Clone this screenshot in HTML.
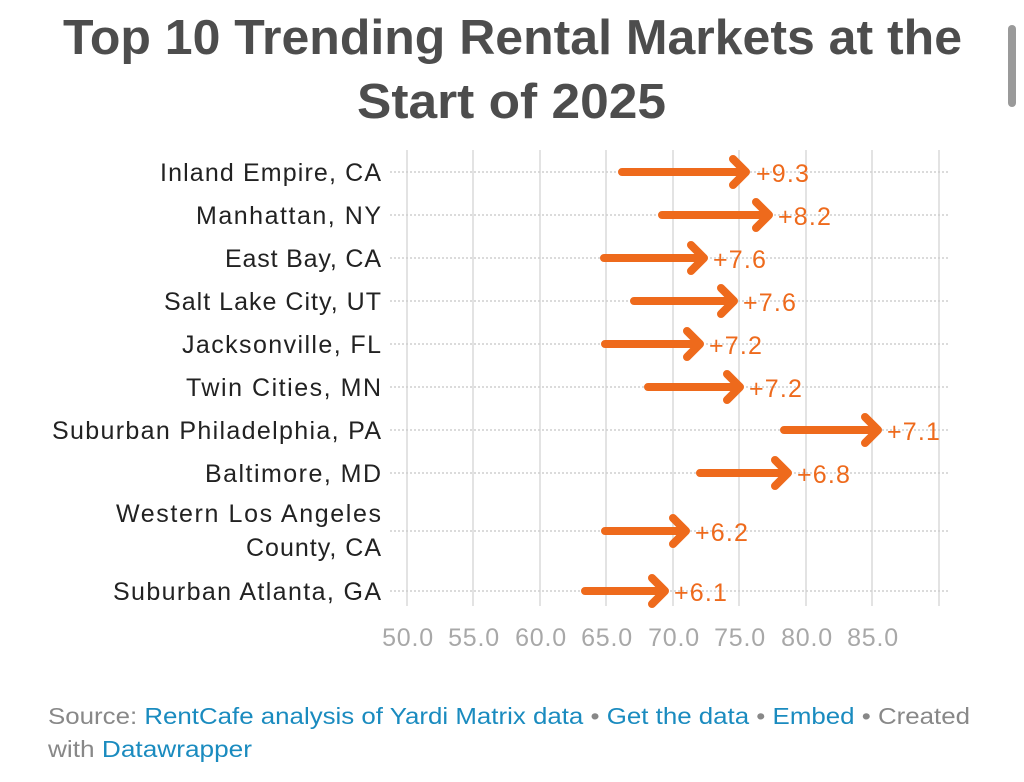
<!DOCTYPE html>
<html><head><meta charset="utf-8"><style>
body{margin:0;width:1024px;height:777px;background:#fff;overflow:hidden;font-family:"Liberation Sans",Arial,sans-serif;}
</style></head><body>
<svg width="1024" height="777" xmlns="http://www.w3.org/2000/svg" font-family="Liberation Sans, Arial, sans-serif">
<rect x="1008" y="25" width="8" height="82" rx="4" fill="#9a9a9a"/>
<text x="63" y="54" font-size="49" font-weight="bold" fill="#4d4d4d" textLength="899" lengthAdjust="spacingAndGlyphs">Top 10 Trending Rental Markets at the</text>
<text x="357" y="118" font-size="49" font-weight="bold" fill="#4d4d4d" textLength="309" lengthAdjust="spacingAndGlyphs">Start of 2025</text>
<g stroke="#e3e3e3" stroke-width="2">
<line x1="407" y1="150" x2="407" y2="606"/><line x1="473" y1="150" x2="473" y2="606"/><line x1="540" y1="150" x2="540" y2="606"/><line x1="606" y1="150" x2="606" y2="606"/><line x1="673" y1="150" x2="673" y2="606"/><line x1="739" y1="150" x2="739" y2="606"/><line x1="806" y1="150" x2="806" y2="606"/><line x1="872" y1="150" x2="872" y2="606"/><line x1="939" y1="150" x2="939" y2="606"/>
</g>
<g stroke="#cfcfcf" stroke-width="1.5" stroke-dasharray="2,2">
<line x1="390" y1="172" x2="950" y2="172"/><line x1="390" y1="215" x2="950" y2="215"/><line x1="390" y1="258" x2="950" y2="258"/><line x1="390" y1="301" x2="950" y2="301"/><line x1="390" y1="344" x2="950" y2="344"/><line x1="390" y1="387" x2="950" y2="387"/><line x1="390" y1="430" x2="950" y2="430"/><line x1="390" y1="473" x2="950" y2="473"/><line x1="390" y1="531" x2="950" y2="531"/><line x1="390" y1="591" x2="950" y2="591"/>
</g>
<g font-size="25" fill="#222" lengthAdjust="spacingAndGlyphs">
<text x="160" y="181" textLength="221">Inland Empire, CA</text>
<text x="196" y="224" textLength="185">Manhattan, NY</text>
<text x="225" y="267" textLength="156">East Bay, CA</text>
<text x="164" y="310" textLength="217">Salt Lake City, UT</text>
<text x="182" y="353" textLength="199">Jacksonville, FL</text>
<text x="186" y="396" textLength="195">Twin Cities, MN</text>
<text x="52" y="439" textLength="329">Suburban Philadelphia, PA</text>
<text x="205" y="482" textLength="176">Baltimore, MD</text>
<text x="116" y="522" textLength="265">Western Los Angeles</text>
<text x="246" y="556" textLength="135">County, CA</text>
<text x="113" y="600" textLength="268">Suburban Atlanta, GA</text>
</g>
<g stroke="#ee6a1c" stroke-width="8" stroke-linecap="round" stroke-linejoin="round" fill="none">
<path d="M622 172H746M733 159L746 172L733 185"/>
<path d="M662 215H769M756 202L769 215L756 228"/>
<path d="M604 258H704M691 245L704 258L691 271"/>
<path d="M634 301H734M721 288L734 301L721 314"/>
<path d="M605 344H700M687 331L700 344L687 357"/>
<path d="M648 387H740M727 374L740 387L727 400"/>
<path d="M784 430H878M865 417L878 430L865 443"/>
<path d="M700 473H788M775 460L788 473L775 486"/>
<path d="M605 531H686M673 518L686 531L673 544"/>
<path d="M585 591H665M652 578L665 591L652 604"/>
</g>
<g font-size="25" fill="#ee6a1c" letter-spacing="1.2">
<text x="756" y="182">+9.3</text>
<text x="778" y="225">+8.2</text>
<text x="713" y="268">+7.6</text>
<text x="743" y="311">+7.6</text>
<text x="709" y="354">+7.2</text>
<text x="749" y="397">+7.2</text>
<text x="887" y="440">+7.1</text>
<text x="797" y="483">+6.8</text>
<text x="695" y="541">+6.2</text>
<text x="674" y="601">+6.1</text>
</g>
<g font-size="25" fill="#a8a8a8" text-anchor="middle" letter-spacing="0.8">
<text x="408" y="646">50.0</text><text x="474" y="646">55.0</text><text x="541" y="646">60.0</text><text x="607" y="646">65.0</text><text x="674" y="646">70.0</text><text x="740" y="646">75.0</text><text x="807" y="646">80.0</text><text x="873" y="646">85.0</text>
</g>
<text x="48" y="724" font-size="23" fill="#888" textLength="922" lengthAdjust="spacingAndGlyphs">Source: <tspan fill="#1a8bbf">RentCafe analysis of Yardi Matrix data</tspan> • <tspan fill="#1a8bbf">Get the data</tspan> • <tspan fill="#1a8bbf">Embed</tspan>  • Created</text>
<text x="48" y="757" font-size="23" fill="#888" textLength="204" lengthAdjust="spacingAndGlyphs">with <tspan fill="#1a8bbf">Datawrapper</tspan></text>
</svg>
</body></html>
